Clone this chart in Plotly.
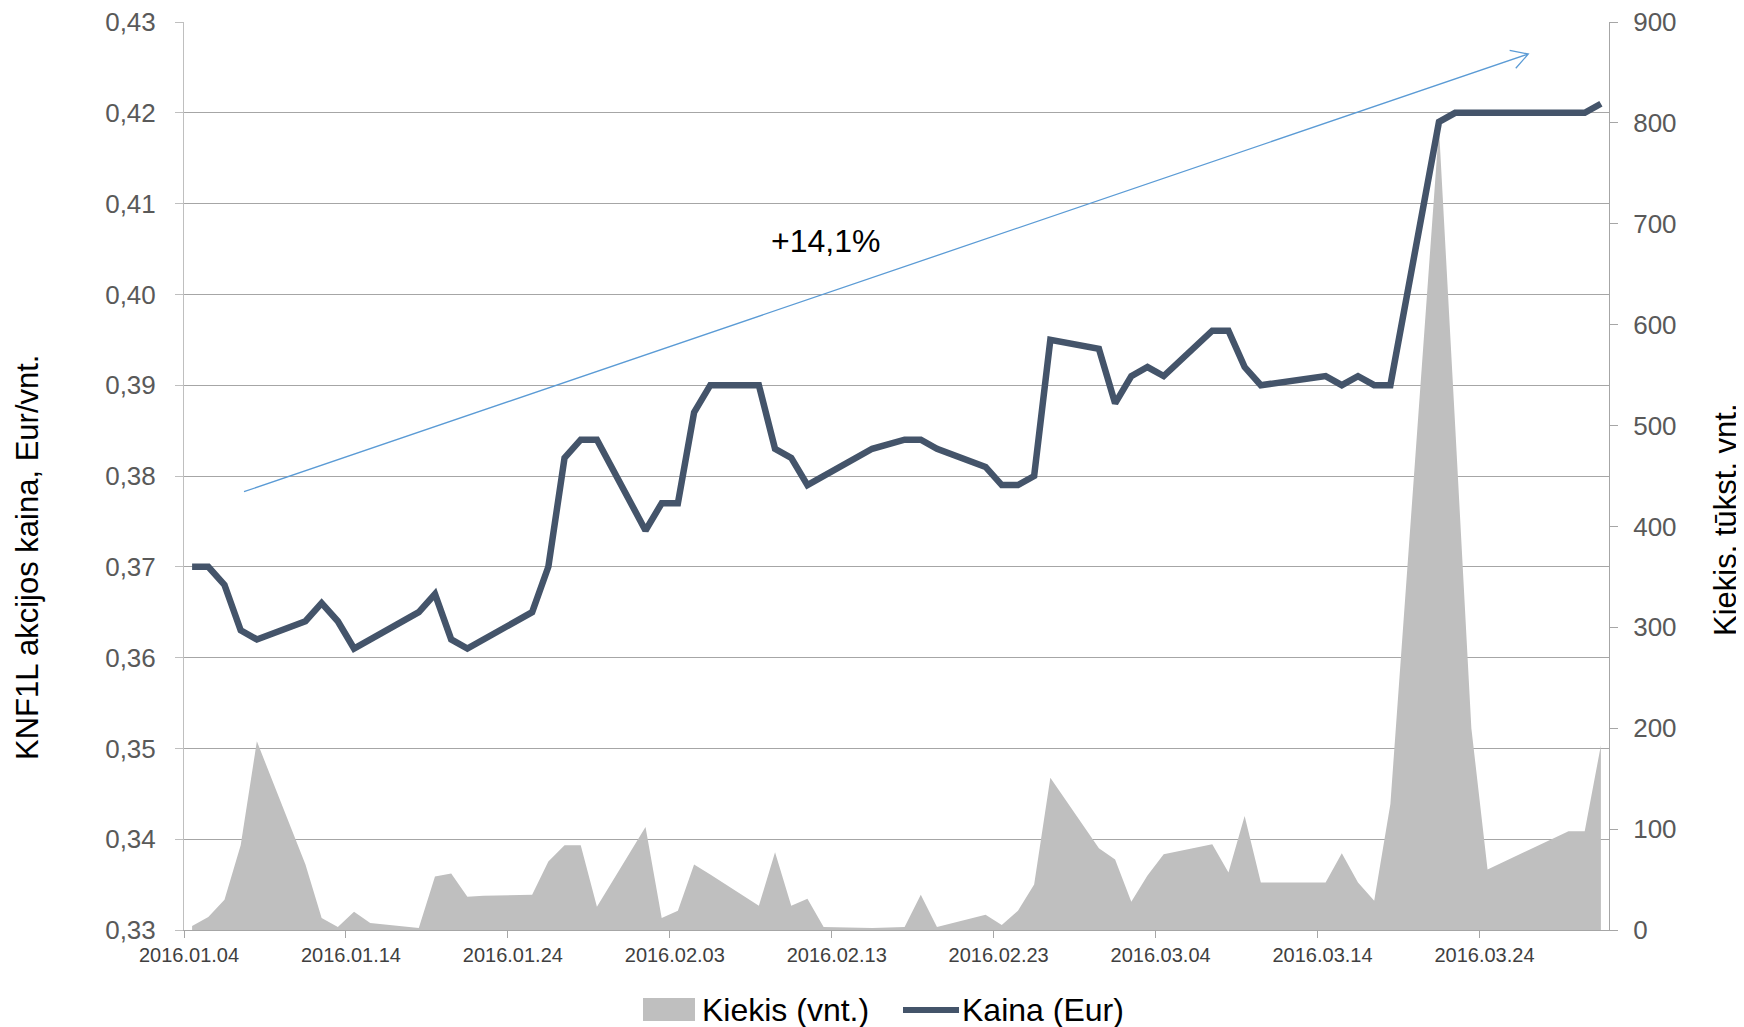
import math
import pandas as pd
import plotly.graph_objects as go

# trading days (Nasdaq Vilnius, 2016 Q1)
dates = [
    "2016-01-04", "2016-01-05", "2016-01-06", "2016-01-07", "2016-01-08",
    "2016-01-11", "2016-01-12", "2016-01-13", "2016-01-14", "2016-01-15",
    "2016-01-18", "2016-01-19", "2016-01-20", "2016-01-21", "2016-01-22",
    "2016-01-25", "2016-01-26", "2016-01-27", "2016-01-28", "2016-01-29",
    "2016-02-01", "2016-02-02", "2016-02-03", "2016-02-04", "2016-02-05",
    "2016-02-08", "2016-02-09", "2016-02-10", "2016-02-11", "2016-02-12",
    "2016-02-15", "2016-02-17", "2016-02-18", "2016-02-19",
    "2016-02-22", "2016-02-23", "2016-02-24", "2016-02-25", "2016-02-26",
    "2016-02-29", "2016-03-01", "2016-03-02", "2016-03-03", "2016-03-04",
    "2016-03-07", "2016-03-08", "2016-03-09", "2016-03-10",
    "2016-03-14", "2016-03-15", "2016-03-16", "2016-03-17", "2016-03-18",
    "2016-03-21", "2016-03-22", "2016-03-23", "2016-03-24",
    "2016-03-29", "2016-03-30", "2016-03-31",
]

# closing price, Eur
kaina = [
    0.370, 0.370, 0.368, 0.363, 0.362,
    0.364, 0.366, 0.364, 0.361, 0.362,
    0.365, 0.367, 0.362, 0.361, 0.362,
    0.365, 0.370, 0.382, 0.384, 0.384,
    0.374, 0.377, 0.377, 0.387, 0.390,
    0.390, 0.383, 0.382, 0.379, 0.380,
    0.383, 0.384, 0.384, 0.383,
    0.381, 0.379, 0.379, 0.380, 0.395,
    0.394, 0.388, 0.391, 0.392, 0.391,
    0.396, 0.396, 0.392, 0.390,
    0.391, 0.390, 0.391, 0.390, 0.390,
    0.419, 0.420, 0.420, 0.420,
    0.420, 0.420, 0.421,
]

# volume, thousand units
kiekis = [
    4, 13, 30, 84, 187,
    65, 12, 3, 18, 7,
    2, 53, 56, 33, 34,
    35, 68, 84, 84, 23,
    102, 12, 19, 65, 55,
    24, 77, 24, 31, 3,
    2, 3, 35, 3,
    15, 5, 19, 45, 151,
    81, 70, 28, 54, 75,
    85, 57, 113, 47,
    47, 76, 47, 29, 125,
    795, 500, 200, 60,
    98, 98, 183,
]

# page has an 8px body margin, so work in page pixels and shift back
OFF = 8
W, H = 1744 - OFF, 1027 - OFF
L, T = 184 - OFF, 22 - OFF
R, B = 135, 97
FONT = "Liberation Sans, Arial, sans-serif"
LINE_COLOR = "#44546A"
AREA_COLOR = "#BFBFBF"


def px(x):
    # page pixel -> paper x
    return (x - OFF - L) / (W - L - R)


def py(y):
    # page pixel -> paper y
    return (H - B - (y - OFF)) / (H - T - B)


# points sit in the middle of each day slot
x = pd.to_datetime(dates) + pd.Timedelta(hours=12)

fig = go.Figure()

fig.add_trace(
    go.Scatter(
        x=x, y=kiekis, name="Kiekis (vnt.)", mode="lines", fill="tozeroy",
        line=dict(width=0, color=AREA_COLOR), fillcolor=AREA_COLOR,
        yaxis="y", showlegend=False,
    )
)

fig.add_trace(
    go.Scatter(
        x=x, y=kaina, name="Kaina (Eur)", mode="lines",
        line=dict(color=LINE_COLOR, width=6.5),
        yaxis="y2", showlegend=False,
    )
)

# trend arrow (+14,1%)
x0, y0 = 244, 491.7
x1, y1 = 1528.3, 54
ang = math.atan2(y0 - y1, x0 - x1)
wings = []
for da in (math.radians(30), -math.radians(30)):
    wings.append((x1 + 19 * math.cos(ang + da), y1 + 19 * math.sin(ang + da)))
path = "M{},{} L{},{} M{},{} L{},{} L{},{}".format(
    px(x0), py(y0), px(x1), py(y1),
    px(wings[0][0]), py(wings[0][1]), px(x1), py(y1),
    px(wings[1][0]), py(wings[1][1]),
)

shapes = [
    dict(type="path", xref="paper", yref="paper", path=path,
         line=dict(color="#5B9BD5", width=1.3)),
    # legend symbols
    dict(type="rect", xref="paper", yref="paper",
         x0=px(643), x1=px(695), y0=py(1021), y1=py(998),
         fillcolor=AREA_COLOR, line=dict(width=0)),
    dict(type="line", xref="paper", yref="paper",
         x0=px(903), x1=px(959), y0=py(1010), y1=py(1010),
         line=dict(color=LINE_COLOR, width=6)),
]


def note(text, xp, yp, size, angle=0, xanchor="center"):
    return dict(text=text, xref="paper", yref="paper", x=px(xp), y=py(yp),
                xanchor=xanchor, yanchor="middle", textangle=angle,
                showarrow=False, font=dict(size=size, color="#000000"))


annotations = [
    note("+14,1%", 825, 241, 32),
    note("KNF1L akcijos kaina, Eur/vnt.", 28, 558, 31, angle=-90),
    note("Kiekis, tūkst. vnt.", 1726, 520, 31, angle=-90),
    note("Kiekis (vnt.)", 700, 1010, 32, xanchor="left"),
    note("Kaina (Eur)", 960, 1010, 32, xanchor="left"),
]

fig.update_layout(
    width=W,
    height=H,
    margin=dict(l=L, r=R, t=T, b=B, autoexpand=False),
    paper_bgcolor="white",
    plot_bgcolor="white",
    separators=", ",
    font=dict(family=FONT),
    showlegend=False,
    shapes=shapes,
    annotations=annotations,
    xaxis=dict(
        type="date",
        range=["2016-01-04", "2016-04-01"],
        tick0="2016-01-04",
        dtick=10 * 24 * 3600 * 1000,
        tickformat="%Y.%m.%d",
        ticks="outside",
        ticklen=7,
        tickcolor="#A6A6A6",
        showline=True,
        linecolor="#A6A6A6",
        showgrid=False,
        zeroline=False,
        ticklabelshift=5,
        ticklabeloverflow="allow",
        tickfont=dict(size=20, color="#404040"),
    ),
    yaxis=dict(
        side="right",
        range=[0, 900],
        dtick=100,
        ticks="outside",
        ticklen=8,
        tickcolor="#A6A6A6",
        showline=True,
        linecolor="#A6A6A6",
        showgrid=False,
        zeroline=False,
        ticklabelstandoff=10,
        ticklabeloverflow="allow",
        tickfont=dict(size=26, color="#595959"),
    ),
    yaxis2=dict(
        overlaying="y",
        side="left",
        range=[0.33, 0.43],
        dtick=0.01,
        tickformat=".2f",
        ticks="outside",
        ticklen=8,
        tickcolor="#BFBFBF",
        showline=True,
        linecolor="#BFBFBF",
        showgrid=True,
        gridcolor="#A6A6A6",
        zeroline=False,
        ticklabelstandoff=14,
        ticklabeloverflow="allow",
        tickfont=dict(size=26, color="#595959"),
    ),
)

fig.write_html("out.html")
